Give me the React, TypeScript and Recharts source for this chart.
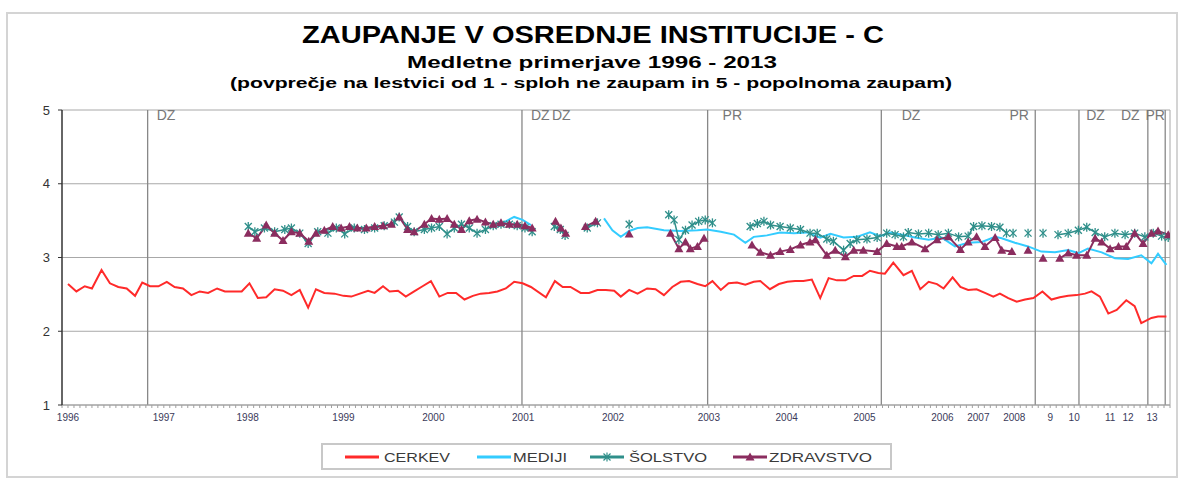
import { LineChart, Line, XAxis, YAxis, CartesianGrid, ReferenceLine, Legend } from 'recharts';

type Pt = [number, number];

// x = survey position on the (category) axis, 0 .. xMax
const xMax = 185;
const yTicks = [1, 2, 3, 4, 5];

const yearTicks: [number, string][] = [
  [1, '1996'], [17, '1997'], [31, '1998'], [47, '1999'], [62, '2000'], [77, '2001'],
  [92, '2002'], [108, '2003'], [121, '2004'], [134, '2005'], [147, '2006'], [153, '2007'],
  [159, '2008'], [165, '9'], [169, '10'], [175, '11'], [178, '12'], [182, '13'],
];

// election markers (DZ = parliament, PR = president)
const electionLines = [14.3, 76.8, 107.8, 136.8, 162.5, 169.8, 181.3, 184.2];
const electionLabels: [number, string][] = [
  [15.8, 'DZ'], [78.3, 'DZ'], [81.8, 'DZ'], [110.3, 'PR'], [140.2, 'DZ'],
  [158.2, 'PR'], [171, 'DZ'], [176.8, 'DZ'], [180.9, 'PR'],
];

const cerkev: Pt[] = [
  [1.0, 2.64], [2.4, 2.54], [3.8, 2.61], [5.0, 2.58], [6.6, 2.83], [8.0, 2.65], [9.4, 2.6],
  [10.8, 2.58], [12.2, 2.48], [13.4, 2.66], [14.7, 2.61], [16.1, 2.61], [17.5, 2.67], [18.8, 2.6],
  [20.2, 2.58], [21.6, 2.49], [23.0, 2.54], [24.4, 2.52], [25.9, 2.58], [27.2, 2.54], [28.8, 2.54],
  [30.0, 2.54], [31.3, 2.65], [32.7, 2.45], [34.1, 2.46], [35.5, 2.57], [36.9, 2.55], [38.3, 2.49],
  [39.7, 2.56], [41.1, 2.32], [42.4, 2.57], [43.8, 2.52], [45.5, 2.51], [47.0, 2.48], [48.3, 2.47],
  [51.1, 2.55], [52.2, 2.52], [53.6, 2.61], [54.7, 2.54], [56.1, 2.55], [57.4, 2.47], [58.8, 2.54],
  [60.2, 2.61], [61.6, 2.68], [63.0, 2.47], [64.4, 2.52], [65.8, 2.52], [67.2, 2.43], [68.6, 2.48],
  [69.9, 2.51], [71.3, 2.52], [72.7, 2.54], [74.1, 2.58], [75.5, 2.67], [76.9, 2.65], [78.3, 2.6],
  [80.8, 2.46], [82.3, 2.68], [83.6, 2.6], [84.9, 2.6], [86.6, 2.52], [88.0, 2.52], [89.4, 2.56],
  [90.8, 2.56], [92.2, 2.55], [93.3, 2.47], [94.7, 2.56], [96.1, 2.51], [97.7, 2.58], [99.1, 2.57],
  [100.5, 2.49], [101.9, 2.6], [103.3, 2.67], [104.7, 2.68], [106.1, 2.64], [107.4, 2.61],
  [108.6, 2.68], [110.0, 2.56], [111.3, 2.65], [112.7, 2.66], [114.1, 2.63], [115.5, 2.67],
  [116.6, 2.68], [118.2, 2.57], [119.7, 2.64], [121.1, 2.67], [122.4, 2.68], [123.8, 2.68],
  [125.2, 2.7], [126.6, 2.45], [128.0, 2.72], [129.4, 2.69], [130.8, 2.69], [132.2, 2.75],
  [133.6, 2.75], [134.9, 2.82], [136.3, 2.79], [137.4, 2.78], [138.8, 2.93], [140.5, 2.76],
  [141.9, 2.82], [143.3, 2.57], [144.7, 2.67], [146.1, 2.64], [147.2, 2.58], [148.7, 2.73],
  [150.0, 2.6], [151.3, 2.56], [152.7, 2.57], [154.1, 2.52], [155.5, 2.47], [156.6, 2.51],
  [158.0, 2.45], [159.4, 2.4], [160.8, 2.43], [162.2, 2.45], [163.7, 2.54], [165.2, 2.43],
  [166.6, 2.46], [168.0, 2.48], [169.4, 2.49], [170.8, 2.51], [171.9, 2.54], [173.3, 2.47],
  [174.7, 2.24], [176.1, 2.29], [177.7, 2.42], [179.1, 2.34], [180.2, 2.11], [181.9, 2.18],
  [183.0, 2.2], [184.4, 2.2],
];

const mediji: Pt[][] = [
  [[72.7, 3.42], [74.1, 3.49], [75.5, 3.55], [76.9, 3.51], [78.3, 3.44]],
  [
    [90.5, 3.53], [91.9, 3.37], [93.3, 3.28], [94.7, 3.36], [96.1, 3.4], [97.7, 3.41],
    [100.5, 3.37], [103.3, 3.36], [106.1, 3.37], [107.7, 3.38], [110.0, 3.35], [112.2, 3.31],
    [114.1, 3.2], [115.5, 3.28], [117.7, 3.3], [119.9, 3.34], [122.2, 3.33], [124.4, 3.34],
    [126.6, 3.27], [128.3, 3.32], [130.5, 3.27], [132.7, 3.28], [134.9, 3.34], [136.6, 3.29],
    [138.3, 3.34], [140.2, 3.31], [142.4, 3.27], [144.7, 3.24], [146.9, 3.27], [149.1, 3.15],
    [151.3, 3.2], [153.6, 3.21], [155.8, 3.28], [156.9, 3.26], [159.1, 3.2], [161.3, 3.15],
    [163.5, 3.08], [165.8, 3.07], [168.0, 3.1], [169.7, 3.06], [171.3, 3.12], [173.6, 3.07],
    [175.8, 2.99], [178.0, 2.98], [180.2, 3.03], [181.9, 2.92], [183.0, 3.05], [184.4, 2.9],
  ],
];

const solstvo: Pt[][] = [
  [
    [31.1, 3.42], [32.2, 3.35], [33.8, 3.4], [35.5, 3.35], [37.2, 3.38], [38.3, 3.4], [39.7, 3.33],
    [41.1, 3.19], [42.7, 3.35], [44.4, 3.33], [45.8, 3.4], [47.2, 3.32], [48.8, 3.4], [50.5, 3.38],
    [52.2, 3.4], [53.8, 3.43], [55.5, 3.48], [56.3, 3.55], [57.7, 3.42], [58.8, 3.35], [60.5, 3.38],
    [61.7, 3.4], [63.0, 3.42], [64.3, 3.32], [65.5, 3.4], [66.7, 3.45], [68.0, 3.4], [69.3, 3.33],
    [70.7, 3.38], [72.0, 3.43], [73.3, 3.45], [74.7, 3.45], [76.0, 3.43], [77.3, 3.4], [78.5, 3.35],
  ],
  [[82.2, 3.42], [83.2, 3.38], [84.0, 3.3]],
  [[87.7, 3.4], [89.4, 3.47]],
  [[94.7, 3.45]],
  [
    [101.3, 3.58], [102.2, 3.51], [103.0, 3.24], [104.1, 3.37], [105.2, 3.44], [106.3, 3.49],
    [107.4, 3.51], [108.6, 3.47],
  ],
  [
    [114.9, 3.42], [116.1, 3.46], [117.2, 3.49], [118.3, 3.44], [119.9, 3.42], [121.6, 3.4],
    [123.3, 3.38], [124.9, 3.33], [126.1, 3.33], [127.7, 3.25], [128.8, 3.22], [130.5, 3.1],
    [131.6, 3.19], [132.7, 3.24], [134.4, 3.25], [136.1, 3.27], [137.7, 3.33], [139.1, 3.31],
    [140.5, 3.28], [141.3, 3.34], [143.0, 3.32], [144.7, 3.33], [146.3, 3.31], [148.0, 3.33],
    [149.7, 3.28], [151.3, 3.29], [152.2, 3.42], [153.6, 3.43], [155.2, 3.42], [156.6, 3.41],
    [157.7, 3.33],
  ],
  [[158.8, 3.33]],
  [[161.3, 3.33]],
  [[163.8, 3.33]],
  [
    [166.3, 3.31], [168.0, 3.33], [169.7, 3.37], [171.1, 3.41], [172.5, 3.34], [174.1, 3.28],
    [175.8, 3.33], [177.5, 3.31], [179.1, 3.33], [180.8, 3.28], [182.2, 3.33], [183.6, 3.29],
    [184.7, 3.27],
  ],
];

const zdravstvo: Pt[][] = [
  [
    [31.1, 3.33], [32.5, 3.26], [34.1, 3.44], [35.5, 3.33], [36.9, 3.23], [38.3, 3.35], [39.7, 3.33],
    [41.2, 3.22], [42.4, 3.33], [43.8, 3.37], [45.2, 3.42], [46.6, 3.4], [48.0, 3.42], [49.3, 3.4],
    [50.8, 3.4], [52.2, 3.42], [53.6, 3.43], [55.0, 3.45], [56.3, 3.55], [57.7, 3.38], [58.8, 3.35],
    [60.5, 3.45], [61.7, 3.53], [63.0, 3.52], [64.3, 3.53], [65.5, 3.45], [66.7, 3.38], [68.0, 3.5],
    [69.3, 3.52], [70.7, 3.48], [72.0, 3.45], [73.3, 3.47], [74.7, 3.45], [76.0, 3.45], [77.3, 3.43],
    [78.5, 3.4],
  ],
  [[82.4, 3.49], [83.3, 3.4], [84.1, 3.33]],
  [[87.4, 3.42], [89.1, 3.49]],
  [[94.7, 3.32]],
  [[101.6, 3.33], [103.0, 3.12], [104.1, 3.21], [104.9, 3.12], [106.1, 3.15], [107.2, 3.26]],
  [
    [115.2, 3.17], [116.6, 3.07], [118.3, 3.03], [119.9, 3.08], [121.6, 3.11], [123.3, 3.17],
    [124.9, 3.21], [125.8, 3.24], [127.7, 3.03], [129.1, 3.1], [130.8, 3.01], [132.2, 3.1],
    [133.8, 3.1], [136.1, 3.08], [137.7, 3.19], [139.4, 3.15], [140.2, 3.15], [141.9, 3.21],
    [144.1, 3.12], [146.1, 3.24], [148.0, 3.28], [150.0, 3.11], [151.3, 3.21], [152.7, 3.28],
    [154.1, 3.15], [155.8, 3.27], [156.9, 3.1], [158.6, 3.08],
  ],
  [[161.3, 3.1]],
  [[163.8, 2.99]],
  [
    [166.6, 2.99], [168.0, 3.06], [169.4, 3.03], [171.1, 3.03], [172.5, 3.26], [173.6, 3.21],
    [175.0, 3.12], [176.4, 3.15], [177.7, 3.15], [179.1, 3.33], [180.5, 3.19], [181.9, 3.33],
    [183.0, 3.36], [184.7, 3.31],
  ],
];

const COLORS = {
  cerkev: '#ff2a2a',
  mediji: '#33ccff',
  solstvo: '#2f8f8a',
  zdravstvo: '#8b2d5f',
};

const FONT = '"Liberation Sans", Arial, sans-serif';

// join segments with a null row so the line breaks between them
const toRows = (segments: Pt[][]) => {
  const rows: { x: number; y: number | null }[] = [];
  segments.forEach((seg, i) => {
    if (i > 0) rows.push({ x: seg[0][0] - 0.01, y: null });
    seg.forEach(([x, y]) => rows.push({ x, y }));
  });
  return rows;
};

const labelMap = new Map(yearTicks.map(([i, l]) => [i, l]));
const axisTicks: number[] = [];
for (let i = 0; i <= xMax; i++) axisTicks.push(i);

const StarDot = (props: any) => {
  const { cx, cy, index, payload } = props;
  if (cx == null || cy == null || payload?.y == null) return <g key={`s-${index}`} />;
  const r = 3.5;
  return (
    <g key={`s-${index}`} stroke={COLORS.solstvo} strokeWidth={1.3}>
      <line x1={cx - r} y1={cy - r} x2={cx + r} y2={cy + r} />
      <line x1={cx - r} y1={cy + r} x2={cx + r} y2={cy - r} />
      <line x1={cx} y1={cy - r - 1} x2={cx} y2={cy + r + 1} />
    </g>
  );
};

const TriangleDot = (props: any) => {
  const { cx, cy, index, payload } = props;
  if (cx == null || cy == null || payload?.y == null) return <g key={`t-${index}`} />;
  return (
    <polygon
      key={`t-${index}`}
      points={`${cx},${cy - 4.5} ${cx - 4.5},${cy + 3.5} ${cx + 4.5},${cy + 3.5}`}
      fill={COLORS.zdravstvo}
    />
  );
};

const legendItems = [
  { name: 'CERKEV', color: COLORS.cerkev, lx: 24, tx: 63, tw: 66, marker: 'none' },
  { name: 'MEDIJI', color: COLORS.mediji, lx: 156, tx: 192, tw: 54, marker: 'none' },
  { name: 'ŠOLSTVO', color: COLORS.solstvo, lx: 269, tx: 308, tw: 78, marker: 'star' },
  { name: 'ZDRAVSTVO', color: COLORS.zdravstvo, lx: 412, tx: 448, tw: 103, marker: 'triangle' },
];

const renderLegend = () => (
  <svg width={571} height={27} style={{ display: 'block' }}>
    <rect x={1} y={1} width={569} height={25} fill="#fff" stroke="#c8c8c8" strokeWidth={2} />
    {legendItems.map((it) => {
      const cx = it.lx + 17;
      return (
        <g key={it.name}>
          <line x1={it.lx} y1={14} x2={it.lx + 34} y2={14} stroke={it.color} strokeWidth={3} />
          {it.marker === 'star' && (
            <g stroke={it.color} strokeWidth={1.2}>
              <line x1={cx - 3.5} y1={10.5} x2={cx + 3.5} y2={17.5} />
              <line x1={cx - 3.5} y1={17.5} x2={cx + 3.5} y2={10.5} />
              <line x1={cx} y1={9.5} x2={cx} y2={18.5} />
            </g>
          )}
          {it.marker === 'triangle' && (
            <polygon points={`${cx},${9.5} ${cx - 4.5},${17.5} ${cx + 4.5},${17.5}`} fill={it.color} />
          )}
          <text
            x={it.tx}
            y={19}
            fontSize={13}
            fontFamily={FONT}
            fill="#3a3a3a"
            textLength={it.tw}
            lengthAdjust="spacingAndGlyphs"
          >
            {it.name}
          </text>
        </g>
      );
    })}
  </svg>
);

const App = () => {
  return (
    <div style={{ position: 'absolute', left: 0, top: 0, width: 1180, height: 479, background: '#fff' }}>
      <div
        style={{
          position: 'absolute',
          left: 6,
          top: 12,
          width: 1168,
          height: 462,
          border: '2px solid #d4d4d4',
        }}
      />
      <svg width={1180} height={100} style={{ position: 'absolute', left: 0, top: 0 }}>
        <text x={593} y={43} textAnchor="middle" fontFamily={FONT} fontWeight="bold" fontSize={24}
          textLength={582} lengthAdjust="spacingAndGlyphs" fill="#000">
          ZAUPANJE V OSREDNJE INSTITUCIJE - C
        </text>
        <text x={592} y={68} textAnchor="middle" fontFamily={FONT} fontWeight="bold" fontSize={17}
          textLength={370} lengthAdjust="spacingAndGlyphs" fill="#000">
          Medletne primerjave 1996 - 2013
        </text>
        <text x={591} y={88} textAnchor="middle" fontFamily={FONT} fontWeight="bold" fontSize={14}
          textLength={722} lengthAdjust="spacingAndGlyphs" fill="#000">
          (povprečje na lestvici od 1 - sploh ne zaupam in 5 - popolnoma zaupam)
        </text>
      </svg>
      <div style={{ position: 'absolute', left: 0, top: 0 }}>
        <LineChart width={1180} height={479} margin={{ top: 110, right: 10, left: 22, bottom: 44 }}>
          <CartesianGrid vertical={false} stroke="#a8a8a8" />
          <XAxis
            type="number"
            dataKey="x"
            domain={[0, xMax]}
            allowDataOverflow
            ticks={axisTicks}
            interval={0}
            tickFormatter={(v: number) => labelMap.get(v) ?? ''}
            tickSize={3}
            tickMargin={6}
            height={30}
            stroke="#a0a0a0"
            tick={{ fontSize: 10, fill: '#3a3a5a', fontFamily: FONT }}
          />
          <YAxis
            type="number"
            domain={[1, 5]}
            ticks={yTicks}
            width={40}
            tickSize={4}
            tickMargin={8}
            axisLine={{ stroke: '#333', strokeWidth: 1.5 }}
            tickLine={{ stroke: '#333' }}
            tick={{ fontSize: 13, fill: '#333', fontFamily: FONT }}
          />
          <ReferenceLine x={xMax} stroke="#a8a8a8" />
          {electionLines.map((x) => (
            <ReferenceLine key={`el-${x}`} x={x} stroke="#888" strokeWidth={1.3} />
          ))}
          {electionLabels.map(([x, t], i) => (
            <ReferenceLine
              key={`lab-${i}`}
              x={x}
              stroke="none"
              label={{ value: t, position: 'insideTopLeft', offset: 0, fill: '#777', fontSize: 14, fontFamily: FONT }}
            />
          ))}
          <Line
            data={cerkev.map(([x, y]) => ({ x, y }))}
            dataKey="y"
            stroke={COLORS.cerkev}
            strokeWidth={2}
            dot={false}
            isAnimationActive={false}
          />
          <Line
            data={toRows(mediji)}
            dataKey="y"
            stroke={COLORS.mediji}
            strokeWidth={2}
            dot={false}
            isAnimationActive={false}
          />
          <Line
            data={toRows(solstvo)}
            dataKey="y"
            stroke={COLORS.solstvo}
            strokeWidth={1.5}
            dot={StarDot}
            isAnimationActive={false}
          />
          <Line
            data={toRows(zdravstvo)}
            dataKey="y"
            stroke={COLORS.zdravstvo}
            strokeWidth={2}
            dot={TriangleDot}
            isAnimationActive={false}
          />
          <Legend
            layout="horizontal"
            verticalAlign="middle"
            align="center"
            wrapperStyle={{ left: 321, top: 443, width: 571, height: 27 }}
            content={renderLegend}
          />
        </LineChart>
      </div>
    </div>
  );
};

export default App;
